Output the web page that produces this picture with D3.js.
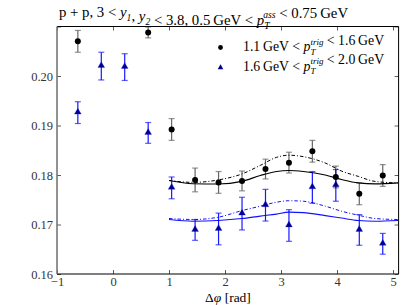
<!DOCTYPE html>
<html>
<head>
<meta charset="utf-8">
<script src="https://cdn.jsdelivr.net/npm/d3@7"></script>
<style>
    body { margin: 0; background: #fff; }
    svg { display: block; }
</style>
</head>
<body>
<svg id="chart" width="407" height="305"></svg>
<script>
// bin centres in delta phi
var dphi = [-0.628, -0.209, 0.209, 0.628, 1.047, 1.466, 1.885, 2.304, 2.723, 3.142, 3.560, 3.979, 4.398, 4.817];

// 1.1 < pT trig < 1.6 (black circles), null = off scale
var lowTrig = [0.2070, null, null, 0.2088, 0.1892, 0.1790, 0.1785, 0.1788, 0.1812, 0.1825, 0.1848, 0.1796, 0.1762, 0.1799];
var lowTrigErr = [0.0022, null, null, 0.0011, 0.0022, 0.0024, 0.0022, 0.0020, 0.0020, 0.0021, 0.0022, 0.0022, 0.0022, 0.0022];

// 1.6 < pT trig < 2.0 (blue triangles)
var highTrig = [0.1926, 0.2020, 0.2018, 0.1885, 0.1774, 0.1689, 0.1691, 0.1722, 0.1739, 0.1698, 0.1775, 0.1779, 0.1689, 0.1661];
var highTrigErr = [0.0022, 0.0028, 0.0027, 0.0021, 0.0022, 0.0021, 0.0032, 0.0033, 0.0032, 0.0032, 0.0032, 0.0032, 0.0031, 0.0021];

// fit curves
var fitX = [1.0, 1.43, 1.88, 2.30, 2.63, 2.92, 3.14, 3.40, 3.79, 4.08, 4.38, 4.68, 5.09];
var lowFit = [0.1789, 0.17824, 0.17818, 0.17871, 0.1799, 0.1807, 0.1809, 0.1807, 0.1800, 0.1791, 0.1784, 0.1782, 0.1784];
var lowFitDash = [0.1789, 0.17851, 0.1790, 0.1802, 0.18194, 0.18356, 0.1840, 0.1837, 0.18242, 0.1808, 0.17972, 0.1787, 0.1784];
var highFit = [0.1710, 0.17067, 0.17081, 0.1712, 0.1717, 0.1721, 0.1725, 0.1724, 0.1718, 0.1713, 0.1708, 0.17067, 0.17081];
var highFitDash = [0.17121, 0.17101, 0.17147, 0.1728, 0.1737, 0.1745, 0.1748, 0.1747, 0.1737, 0.17269, 0.17188, 0.17121, 0.17101];

var xTicks = [-1, 0, 1, 2, 3, 4, 5];
var yTicks = [0.16, 0.17, 0.18, 0.19, 0.20, 0.21];
var yLabels = ["0.16", "0.17", "0.18", "0.19", "0.20", ""];

var serif = "'Liberation Serif', 'Times New Roman'";
var plotLeft = 57, plotRight = 398.6, plotTop = 26.5, plotBottom = 274;
var capHalf = 3;

var svg = d3.select("#chart");

var x = d3.scaleLinear().domain([-1, 5.1]).range([plotLeft, plotRight]);
var y = d3.scaleLinear().domain([0.16, 0.21]).range([plotBottom, plotTop]);

// axes, inward ticks on all four sides
function tickFmt(d) {
    return d < 0 ? "\u2212" + Math.abs(d) : String(d);
}

svg.append("g")
    .attr("transform", "translate(0," + plotBottom + ")")
    .call(d3.axisBottom(x).tickValues(xTicks).tickSizeInner(-4).tickSizeOuter(0).tickPadding(3).tickFormat(tickFmt));
svg.append("g")
    .attr("transform", "translate(0," + plotTop + ")")
    .call(d3.axisTop(x).tickValues(xTicks).tickSizeInner(-4).tickSizeOuter(0).tickFormat(""));
svg.append("g")
    .attr("transform", "translate(" + plotLeft + ",0)")
    .call(d3.axisLeft(y).tickValues(yTicks).tickSizeInner(-4).tickSizeOuter(0).tickPadding(4)
        .tickFormat(function(d, i) { return yLabels[i]; }));
svg.append("g")
    .attr("transform", "translate(" + plotRight + ",0)")
    .call(d3.axisRight(y).tickValues(yTicks).tickSizeInner(-4).tickSizeOuter(0).tickFormat(""));

svg.selectAll(".domain").remove();
svg.selectAll(".tick line").style("stroke", "#333").style("stroke-width", 0.8);
svg.selectAll(".tick text")
    .style("font-family", serif)
    .style("font-size", "12.5px")
    .style("fill", "#333");

// spines
svg.append("line")
    .attr("x1", plotLeft).attr("x2", plotRight).attr("y1", plotTop).attr("y2", plotTop)
    .style("stroke", "#000").style("stroke-width", 1);
svg.append("line")
    .attr("x1", plotLeft).attr("x2", plotRight).attr("y1", plotBottom).attr("y2", plotBottom)
    .style("stroke", "#000").style("stroke-width", 1.2);
svg.append("line")
    .attr("x1", plotRight).attr("x2", plotRight).attr("y1", plotTop).attr("y2", plotBottom)
    .style("stroke", "#000").style("stroke-width", 1);
svg.append("line")
    .attr("x1", plotLeft).attr("x2", plotLeft).attr("y1", plotTop).attr("y2", plotBottom)
    .style("stroke", "#777").style("stroke-width", 1.6);

// fit curves
function drawFit(values, color, dash) {
    var line = d3.line()
        .x(function(d, i) { return x(fitX[i]); })
        .y(function(d) { return y(d); })
        .curve(d3.curveMonotoneX);
    svg.append("path")
        .datum(values)
        .attr("d", line)
        .style("fill", "none")
        .style("stroke", color)
        .style("stroke-width", dash ? 1 : 1.1)
        .style("stroke-dasharray", dash ? "3.5,2,1,2" : null);
}
drawFit(lowFit, "#000", false);
drawFit(lowFitDash, "#000", true);
drawFit(highFit, "#1010ff", false);
drawFit(highFitDash, "#1010ff", true);

// error bars + markers
function drawSeries(values, errs, color, barColor, barOpacity, marker) {
    var pts = [];
    values.forEach(function(v, i) {
        if (v != null) pts.push({ x: dphi[i], v: v, e: errs[i] });
    });
    var g = svg.append("g");
    var bars = g.selectAll("g.bar").data(pts).enter().append("g").attr("class", "bar")
        .style("stroke", barColor).style("stroke-width", 1.2).style("opacity", barOpacity);
    bars.append("line")
        .attr("x1", function(d) { return x(d.x); })
        .attr("x2", function(d) { return x(d.x); })
        .attr("y1", function(d) { return y(d.v - d.e); })
        .attr("y2", function(d) { return y(d.v + d.e); });
    [-1, 1].forEach(function(s) {
        bars.append("line")
            .attr("x1", function(d) { return x(d.x) - capHalf; })
            .attr("x2", function(d) { return x(d.x) + capHalf; })
            .attr("y1", function(d) { return y(d.v + s * d.e); })
            .attr("y2", function(d) { return y(d.v + s * d.e); })
            .style("opacity", 0.7);
    });
    if (marker == "circle") {
        g.selectAll("circle").data(pts).enter().append("circle")
            .attr("cx", function(d) { return x(d.x); })
            .attr("cy", function(d) { return y(d.v); })
            .attr("r", 3)
            .style("fill", color);
    } else {
        g.selectAll("path.tri").data(pts).enter().append("path")
            .attr("class", "tri")
            .attr("d", d3.symbol().type(d3.symbolTriangle).size(20))
            .attr("transform", function(d) { return "translate(" + x(d.x) + "," + (y(d.v) - 0.5) + ")"; })
            .style("fill", color)
            .style("stroke", "#1a1aff")
            .style("stroke-width", 0.3);
    }
}
drawSeries(highTrig, highTrigErr, "#00008b", "#0000ff", 0.9, "triangle");
drawSeries(lowTrig, lowTrigErr, "#000", "#000", 0.6, "circle");

// text with p_T^xxx style sub/superscripts
function richText(parent, xPos, yPos, parts, size, anchor) {
    var small = size * 0.65;
    var t = parent.append("text")
        .attr("x", xPos)
        .attr("y", yPos)
        .style("font-family", serif)
        .style("font-size", size + "px")
        .style("fill", "#000")
        .attr("text-anchor", anchor || "start");
    parts.forEach(function(p) {
        if (p.sub != null) {
            var sub = t.append("tspan")
                .attr("dy", size * 0.28)
                .style("font-size", small + "px")
                .style("font-style", "italic")
                .text(p.sub);
            if (p.sup != null) {
                var w = sub.node().getComputedTextLength();
                t.append("tspan")
                    .attr("dx", -w)
                    .attr("dy", -size * 0.74)
                    .style("font-size", small + "px")
                    .style("font-style", "italic")
                    .text(p.sup);
                t.append("tspan").attr("dy", size * 0.46).text("");
            } else {
                t.append("tspan").attr("dy", -size * 0.28).text("");
            }
        } else {
            t.append("tspan")
                .style("font-style", p.it ? "italic" : "normal")
                .text(p.t);
        }
    });
    return t;
}

var th = "\u2009";
richText(svg, 203.5, 17, [
    { t: "p + p, 3 < " }, { t: "y", it: true }, { sub: "1" }, { t: ", " },
    { t: "y", it: true }, { sub: "2" }, { t: " < 3.8, 0.5" + th + "GeV < " },
    { t: "p", it: true }, { sub: "T", sup: "ass" }, { t: " < 0.75" + th + "GeV" }
], 14.8, "middle");

richText(svg, 228, 301.5, [{ t: "\u0394" }, { t: "\u03c6", it: true }, { t: " [rad]" }], 13.5, "middle");

// legend
var legend = svg.append("g");
legend.append("circle").attr("cx", 220.5).attr("cy", 47.5).attr("r", 2.4).style("fill", "#000");
legend.append("path")
    .attr("d", d3.symbol().type(d3.symbolTriangle).size(14))
    .attr("transform", "translate(220.5,67.5)")
    .style("fill", "#00008b");
richText(legend, 243, 51, [
    { t: "1.1" + th + "GeV < " }, { t: "p", it: true }, { sub: "T", sup: "trig" }, { t: " < 1.6" + th + "GeV" }
], 13.8);
richText(legend, 243, 70.5, [
    { t: "1.6" + th + "GeV < " }, { t: "p", it: true }, { sub: "T", sup: "trig" }, { t: " < 2.0" + th + "GeV" }
], 13.8);
</script>
</body>
</html>
